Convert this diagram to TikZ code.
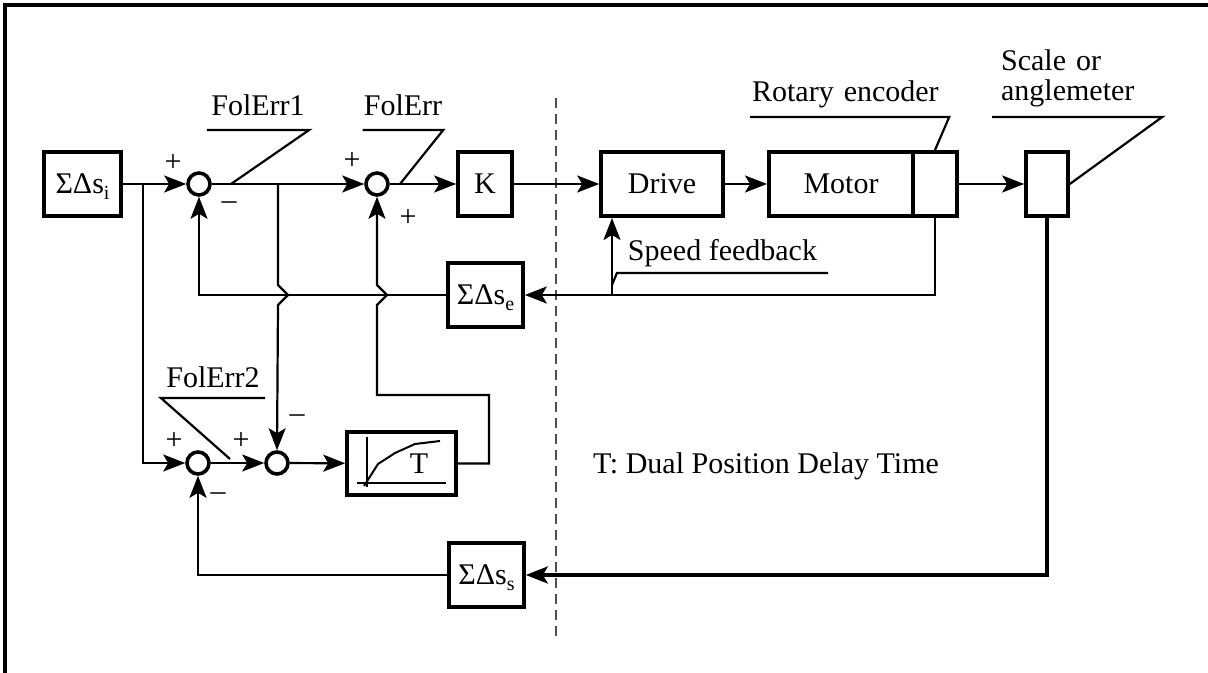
\documentclass[tikz,border=0pt]{standalone}
\usepackage{fontspec}
\setmainfont{Liberation Serif}
\usetikzlibrary{arrows.meta}
\newcommand{\sdelta}[1]{ΣΔs\raisebox{-3pt}[0pt][0pt]{\fontsize{10}{10}\selectfont #1}}
\begin{document}
\begin{tikzpicture}[x=0.5pt, y=-0.5pt, line width=1.1pt,
    >={Stealth[length=11pt,width=8.5pt,inset=2.5pt]},
    font=\fontsize{15}{17}\selectfont,
    blk/.style={draw, line width=2pt, inner sep=0pt, minimum height=32pt},
    sumpt/.style={draw, circle, line width=1.8pt, minimum size=11pt, inner sep=0pt},
    sgn/.style={inner sep=0pt},
    lbl/.style={inner sep=0pt, text depth=0pt},
    sep/.style={draw=black!70, line width=0.8pt, dash pattern=on 5pt off 3pt}]
    \useasboundingbox (0,0) rectangle (1208,673);
    % Rahmen
    \draw[line width=2pt] (5,673) -- (5,5.5) -- (1208,5.5);
    \draw[sep] (556,98) -- (556,636);

    % Bloecke
    \node[blk, minimum width=38.3pt] (si) at (82.5,184) {\sdelta{i}};
    \node[sumpt] (s1) at (199,184) {};
    \node[sumpt] (s2) at (377,184) {};
    \node[blk, minimum width=26.8pt] (k) at (485,184) {K};
    \node[blk, minimum width=60.8pt] (drive) at (662,184) {Drive};
    \node[blk, minimum width=72pt] (motor) at (841,184) {Motor};
    \node[blk, minimum width=22pt, anchor=west] (enc) at ([xshift=-2pt]motor.east) {};
    \node[blk, minimum width=20.8pt] (scale) at (1047,184) {};
    \node[blk, minimum width=37.3pt] (se) at (485.5,295) {\sdelta{e}};
    \node[blk, minimum width=37.3pt] (ss) at (486.5,575) {\sdelta{s}};
    \node[sumpt] (s3) at (198,463) {};
    \node[sumpt] (s4) at (277,463) {};
    \node[blk, minimum width=54.3pt, minimum height=31.3pt] (tdel) at (401.5,463.5) {};
    \node[sgn, anchor=base] (tname) at (419,473) {T};
    \draw[line width=1pt] (367,437) -- (367,487);
    \draw[line width=1pt] (357,483) -- (446,483);
    \draw[line width=1pt] (364,486) -- (378,464) -- (395,453) -- (415,444) -- (440,441);

    % Vorzeichen
    \node[sgn] (p1) at (173,163) {+};
    \node[sgn] (m1) at (229,206) {–};
    \node[sgn] (p2) at (352,161) {+};
    \node[sgn] (p3) at (408,218) {+};
    \node[sgn] (p4) at (174,441) {+};
    \node[sgn] (p5) at (241,441) {+};
    \node[sgn] (m4) at (297,419) {–};
    \node[sgn] (m3) at (218,497) {–};

    % Hilfspunkte
    \coordinate (b2) at (143,184);
    \coordinate (b1) at (278,184);
    \coordinate (sf) at (612,295);
    \coordinate (tr) at (489,395);
    \coordinate (h1) at (b1 |- se);
    \coordinate (h2) at (s2 |- se);

    % Signalfluss
    \draw[->] (si) -- (s1);
    \draw[->] (s1) -- (s2);
    \draw[->] (s2) -- (k);
    \draw[->] (k) -- (drive);
    \draw[->] (drive) -- (motor);
    \draw[->] (enc) -- (scale);
    \draw[->] (enc.south) |- (se.east);
    \draw[->] (sf) -- (sf |- drive.south);
    \draw[->] (se.west) -| (s1.south);
    \draw[->] (b2) |- (s3.west);
    \draw[->] (b1) -- ([yshift=5pt]h1) -- ([xshift=5pt]h1) -- ([yshift=-5pt]h1) -- (s4.north);
    \draw[->] (s3) -- (s4);
    \draw[->] (s4) -- (tdel);
    \draw[->] (tdel.east) -| (tr) -- (tr -| s2) -- ([yshift=-5pt]h2) -- ([xshift=5pt]h2)
        -- ([yshift=5pt]h2) -- (s2.south);
    \draw[->, line width=1.8pt] (scale.south) |- (ss.east);
    \draw[->] (ss.west) -| (s3.south);

    % Beschriftungen
    \coordinate (fe1tip) at (231,184);
    \coordinate (fetip) at (400,184);
    \coordinate (fe2tip) at (230,459);
    \node[lbl, inner ysep=6.5pt, minimum width=50pt, anchor=south] (fe1) at (258,130) {FolErr1};
    \node[lbl, inner ysep=6.5pt, minimum width=39pt, anchor=south] (fe) at (403,130) {FolErr};
    \node[lbl, inner ysep=7pt, inner xsep=0.5pt, text width=97.5pt, align=left, anchor=south west] (rot) at (750,117) {Rotary encoder};
    \node[lbl, inner ysep=22.5pt, inner xsep=4pt, text width=76pt, align=left, anchor=south west] (scl) at (992,117) {Scale or\\[-2pt]anglemeter};
    \node[lbl, inner ysep=5.5pt, minimum width=104.5pt, anchor=south] (spd) at (722.5,273) {Speed feedback};
    \node[lbl, inner ysep=4.5pt, minimum width=51pt, anchor=south] (fe2) at (213,398) {FolErr2};
    \draw (fe1.south west) -- (fe1.south east) -- (fe1tip);
    \draw (fe.south west) -- (fe.south east) -- (fetip);
    \draw (rot.south west) -- (rot.south east) -- (enc.north);
    \draw (scl.south west) -- (scl.south east) -- (scale.east);
    \draw (spd.south east) -- (spd.south west) -- ([yshift=5pt]sf);
    \draw (fe2.south east) -- (fe2.south west) -- (fe2tip);
    \node[sgn, anchor=base west] (note) at (592,473) {T: Dual Position Delay Time};
\end{tikzpicture}
\end{document}
